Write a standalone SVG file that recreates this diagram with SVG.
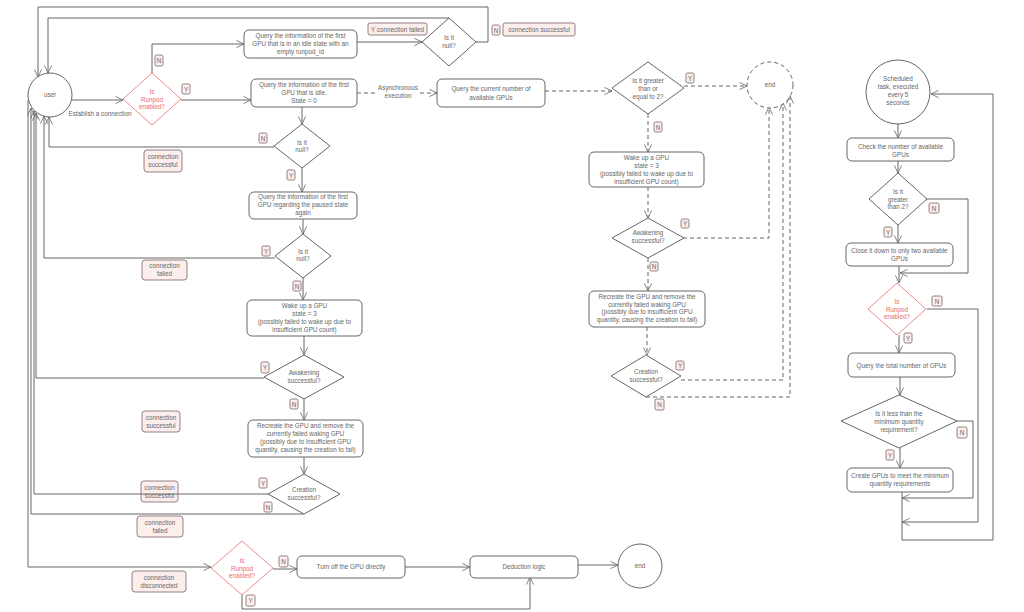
<svg xmlns="http://www.w3.org/2000/svg" width="1024" height="612" viewBox="0 0 1024 612">
<defs>
<style>
text{font-family:"Liberation Sans",Arial,sans-serif;font-size:6.3px;fill:#666;text-anchor:middle}
.n{fill:#fff;stroke:#666;stroke-width:1}
.r{fill:#fff;stroke:#f08a8a;stroke-width:1}
.rt{fill:#e86a6a}
.c{fill:none;stroke:#666;stroke-width:1}
.d{fill:none;stroke:#666;stroke-width:1;stroke-dasharray:4 3}
.lb{fill:#fdeeee;stroke:#7a6262;stroke-width:0.8}
</style>
<marker id="a" viewBox="0 0 10 10" refX="9.5" refY="5" markerWidth="10" markerHeight="8" orient="auto" markerUnits="userSpaceOnUse">
<path d="M0,0.5 L9.5,5 L0,9.5" fill="none" stroke="#666" stroke-width="1"/>
</marker>
</defs>
<rect width="1024" height="612" fill="#fff"/>

<g id="labels">
<rect class="lb" x="144" y="150" width="38" height="22" rx="3"/><text x="163" y="159">connection</text><text x="163" y="167">successful</text>
<rect class="lb" x="142" y="260" width="45" height="20" rx="3"/><text x="164.5" y="268">connection</text><text x="164.5" y="276">failed</text>
<rect class="lb" x="142" y="411" width="38" height="21" rx="3"/><text x="161" y="420">connection</text><text x="161" y="428">successful</text>
<rect class="lb" x="141" y="481" width="37" height="21" rx="3"/><text x="159.5" y="490">connection</text><text x="159.5" y="498">successful</text>
<rect class="lb" x="137" y="516" width="46" height="21" rx="3"/><text x="160" y="525">connection</text><text x="160" y="533">failed</text>
<rect class="lb" x="132" y="571" width="54" height="21" rx="3"/><text x="159" y="580">connection</text><text x="159" y="588">disconnected</text>
<rect class="lb" x="368" y="23" width="59" height="12" rx="2"/><text x="397.5" y="31.5">Y connection failed</text>
<rect class="lb" x="503" y="23" width="72" height="13" rx="2"/><text x="539" y="32">connection successful</text>
<text x="100" y="116">Establish a connection</text>
</g>

<g id="connectors">
<path class="c" d="M72,100 L123,100" marker-end="url(#a)"/>
<path class="c" d="M152,73 L152,44 L244,44" marker-end="url(#a)"/>
<path class="c" d="M181,100 L251,100" marker-end="url(#a)"/>
<path class="c" d="M357,42 L422,42" marker-end="url(#a)"/>
<path class="c" d="M449,18 L48,18 L48,73" marker-end="url(#a)"/>
<path class="c" d="M476,42 L488,42 L488,7 L38,7 L38,77" marker-end="url(#a)"/>
<path class="d" d="M357,93 L437,93" marker-end="url(#a)"/>
<path class="d" d="M545,91 L612,91" marker-end="url(#a)"/>
<path class="c" d="M302,107 L302,124" marker-end="url(#a)"/>
<path class="c" d="M274,147 L49,147 L49,117" marker-end="url(#a)"/>
<path class="c" d="M302,168 L302,192" marker-end="url(#a)"/>
<path class="c" d="M303,219 L303,234" marker-end="url(#a)"/>
<path class="c" d="M275,258 L44,258 L44,116" marker-end="url(#a)"/>
<path class="c" d="M303,278 L303,300" marker-end="url(#a)"/>
<path class="c" d="M304,336 L304,355" marker-end="url(#a)"/>
<path class="c" d="M264,378 L36,378 L36,113" marker-end="url(#a)"/>
<path class="c" d="M304,398 L304,420" marker-end="url(#a)"/>
<path class="c" d="M304,457 L304,474" marker-end="url(#a)"/>
<path class="c" d="M269,494 L34,494 L34,111" marker-end="url(#a)"/>
<path class="c" d="M304,514 L31,514 L31,108" marker-end="url(#a)"/>
<path class="c" d="M28,100 L28,567 L211,567" marker-end="url(#a)"/>
<path class="c" d="M273,569 L297,569" marker-end="url(#a)"/>
<path class="c" d="M405,567 L470,567" marker-end="url(#a)"/>
<path class="c" d="M578,565 L618,565" marker-end="url(#a)"/>
<path class="c" d="M242,595 L242,609 L530,609 L530,577" marker-end="url(#a)"/>
<path class="d" d="M684,86 L747,86" marker-end="url(#a)"/>
<path class="d" d="M648,114 L648,152" marker-end="url(#a)"/>
<path class="d" d="M648,187 L648,218" marker-end="url(#a)"/>
<path class="d" d="M683,238 L769,238 L769,107" marker-end="url(#a)"/>
<path class="d" d="M648,258 L648,291" marker-end="url(#a)"/>
<path class="d" d="M647,327 L647,355" marker-end="url(#a)"/>
<path class="d" d="M681,380 L783,380 L783,103" marker-end="url(#a)"/>
<path class="d" d="M646,397 L790,397 L790,96" marker-end="url(#a)"/>
<path class="c" d="M898,124 L898,138" marker-end="url(#a)"/>
<path class="c" d="M898,161 L898,173" marker-end="url(#a)"/>
<path class="c" d="M898,225 L898,243" marker-end="url(#a)"/>
<path class="c" d="M927,199 L968,199 L968,273 L900,273" marker-end="url(#a)"/>
<path class="c" d="M899,266 L899,283" marker-end="url(#a)"/>
<path class="c" d="M899,335 L899,353" marker-end="url(#a)"/>
<path class="c" d="M927,309 L978,309 L978,522 L902,522" marker-end="url(#a)"/>
<path class="c" d="M900,377 L900,395" marker-end="url(#a)"/>
<path class="c" d="M900,448 L900,468" marker-end="url(#a)"/>
<path class="c" d="M957,421 L973,421 L973,498 L902,498" marker-end="url(#a)"/>
<path class="c" d="M902,492 L902,540 L993,540 L993,94 L931,94" marker-end="url(#a)"/>
</g>

<g id="asyncLabel">
<rect x="378" y="84" width="42" height="16" fill="#fff"/>
<text x="398" y="90">Asynchronous</text><text x="398" y="98">execution</text>
</g>

<g id="yn">
<rect class="lb" x="155" y="55" width="8" height="11" rx="1.5"/><text x="159" y="62.5">N</text>
<rect class="lb" x="182" y="84" width="8" height="10" rx="1.5"/><text x="186" y="91.5">Y</text>
<rect class="lb" x="492" y="25" width="8" height="10" rx="1.5"/><text x="496" y="32.5">N</text>
<rect class="lb" x="259" y="133" width="8" height="10" rx="1.5"/><text x="263" y="140.5">N</text>
<rect class="lb" x="287" y="170" width="8" height="10" rx="1.5"/><text x="291" y="177.5">Y</text>
<rect class="lb" x="262" y="246" width="8" height="10" rx="1.5"/><text x="266" y="253.5">Y</text>
<rect class="lb" x="293" y="281" width="8" height="10" rx="1.5"/><text x="297" y="288.5">N</text>
<rect class="lb" x="261" y="362" width="8" height="11" rx="1.5"/><text x="265" y="369.5">Y</text>
<rect class="lb" x="290" y="399" width="8" height="10" rx="1.5"/><text x="294" y="406.5">N</text>
<rect class="lb" x="259" y="478" width="8" height="10" rx="1.5"/><text x="263" y="485.5">Y</text>
<rect class="lb" x="264" y="502" width="8" height="10" rx="1.5"/><text x="268" y="509.5">N</text>
<rect class="lb" x="686" y="73" width="8" height="10" rx="1.5"/><text x="690" y="80.5">Y</text>
<rect class="lb" x="654" y="122" width="8" height="10" rx="1.5"/><text x="658" y="129.5">N</text>
<rect class="lb" x="681" y="219" width="8" height="9" rx="1.5"/><text x="685" y="226">Y</text>
<rect class="lb" x="650" y="262" width="8" height="9" rx="1.5"/><text x="654" y="269">N</text>
<rect class="lb" x="676" y="361" width="8" height="9" rx="1.5"/><text x="680" y="368">Y</text>
<rect class="lb" x="655" y="399" width="9" height="11" rx="1.5"/><text x="659.5" y="406.5">N</text>
<rect class="lb" x="929" y="203" width="10" height="10" rx="1.5"/><text x="934" y="210.5">N</text>
<rect class="lb" x="884" y="227" width="8" height="10" rx="1.5"/><text x="888" y="234.5">Y</text>
<rect class="lb" x="932" y="296" width="10" height="10" rx="1.5"/><text x="937" y="303.5">N</text>
<rect class="lb" x="904" y="333" width="8" height="10" rx="1.5"/><text x="908" y="340.5">Y</text>
<rect class="lb" x="957" y="427" width="10" height="11" rx="1.5"/><text x="962" y="434.5">N</text>
<rect class="lb" x="886" y="450" width="8" height="10" rx="1.5"/><text x="890" y="457.5">Y</text>
<rect class="lb" x="279" y="556" width="9" height="11" rx="1.5"/><text x="283.5" y="563.5">N</text>
<rect class="lb" x="246" y="595" width="9" height="11" rx="1.5"/><text x="250.5" y="602.5">Y</text>
</g>

<g id="user"><circle class="n" cx="50" cy="95" r="22"/><text x="50" y="97">user</text></g>
<g id="runpod1"><path class="r" d="M152,73 L181,99 L152,125 L123,99 Z" stroke-linejoin="round"/><text class="rt" x="152" y="94">Is</text><text class="rt" x="152" y="101.5">Runpod</text><text class="rt" x="152" y="109">enabled?</text></g>
<g id="queryIdleEmpty"><rect class="n" x="244" y="30" width="113" height="28" rx="5"/><text x="300.5" y="38">Query the information of the first</text><text x="300.5" y="46">GPU that is in an idle state with an</text><text x="300.5" y="54">empty runpod_id</text></g>
<g id="null1"><path class="n" d="M449,18 L476,42 L449,66 L422,42 Z" stroke-linejoin="round"/><text x="449" y="40">Is it</text><text x="449" y="48">null?</text></g>
<g id="queryIdle"><rect class="n" x="251" y="79" width="106" height="28" rx="5"/><text x="304" y="87">Query the information of the first</text><text x="304" y="95">GPU that is idle.</text><text x="304" y="103">State = 0</text></g>
<g id="queryCount"><rect class="n" x="437" y="79" width="108" height="28" rx="5"/><text x="491" y="91">Query the current number of</text><text x="491" y="100">available GPUs</text></g>
<g id="null2"><path class="n" d="M302,124 L330,146 L302,168 L274,146 Z" stroke-linejoin="round"/><text x="302" y="145">Is it</text><text x="302" y="152">null?</text></g>
<g id="queryPaused"><rect class="n" x="249" y="192" width="108" height="27" rx="5"/><text x="303" y="199">Query the information of the first</text><text x="303" y="207">GPU regarding the paused state</text><text x="303" y="215">again</text></g>
<g id="null3"><path class="n" d="M303,234 L331,256 L303,278 L275,256 Z" stroke-linejoin="round"/><text x="303" y="254">Is it</text><text x="303" y="261">null?</text></g>
<g id="wake1"><rect class="n" x="247" y="300" width="115" height="36" rx="5"/><text x="304.5" y="308">Wake up a GPU</text><text x="304.5" y="316">state = 3</text><text x="304.5" y="324">(possibly failed to wake up due to</text><text x="304.5" y="332">insufficient GPU count)</text></g>
<g id="awake1"><path class="n" d="M304,355 L344,377 L304,399 L264,377 Z" stroke-linejoin="round"/><text x="304" y="375">Awakening</text><text x="304" y="383">successful?</text></g>
<g id="recreate1"><rect class="n" x="248" y="420" width="115" height="37" rx="5"/><text x="305.5" y="428">Recreate the GPU and remove the</text><text x="305.5" y="436">currently failed waking GPU</text><text x="305.5" y="444">(possibly due to insufficient GPU</text><text x="305.5" y="452">quantity, causing the creation to fail)</text></g>
<g id="create1"><path class="n" d="M304,474 L340,494 L304,514 L268,494 Z" stroke-linejoin="round"/><text x="304" y="492">Creation</text><text x="304" y="500">successful?</text></g>
<g id="runpod2"><path class="r" d="M242,541 L273,568 L242,595 L211,568 Z" stroke-linejoin="round"/><text class="rt" x="242" y="563">Is</text><text class="rt" x="242" y="570.5">Runpod</text><text class="rt" x="242" y="578">enabled?</text></g>
<g id="turnOff"><rect class="n" x="297" y="556" width="108" height="22" rx="5"/><text x="351" y="569">Turn off the GPU directly</text></g>
<g id="deduction"><rect class="n" x="470" y="556" width="108" height="22" rx="5"/><text x="524" y="569">Deduction logic</text></g>
<g id="end1"><circle class="n" cx="640" cy="566" r="22"/><text x="640" y="568">end</text></g>

<g id="ge2"><path class="n" d="M648,62 L684,88 L648,114 L612,88 Z" stroke-linejoin="round"/><text x="648" y="83">Is it greater</text><text x="648" y="91">than or</text><text x="648" y="99">equal to 2?</text></g>
<g id="end2"><circle cx="770" cy="85" r="23" fill="#fff" stroke="#666" stroke-dasharray="4 3"/><text x="770" y="87">end</text></g>
<g id="wake2"><rect class="n" x="589" y="152" width="115" height="35" rx="5"/><text x="646.5" y="160">Wake up a GPU</text><text x="646.5" y="168">state = 3</text><text x="646.5" y="176">(possibly failed to wake up due to</text><text x="646.5" y="184">insufficient GPU count)</text></g>
<g id="awake2"><path class="n" d="M648,218 L684,238 L648,258 L612,238 Z" stroke-linejoin="round"/><text x="648" y="235">Awakening</text><text x="648" y="243">successful?</text></g>
<g id="recreate2"><rect class="n" x="589" y="291" width="116" height="36" rx="5"/><text x="647" y="299">Recreate the GPU and remove the</text><text x="647" y="306.5">currently failed waking GPU</text><text x="647" y="314">(possibly due to insufficient GPU</text><text x="647" y="322">quantity, causing the creation to fail)</text></g>
<g id="create2"><path class="n" d="M646,355 L681,376 L646,397 L611,376 Z" stroke-linejoin="round"/><text x="646" y="374">Creation</text><text x="646" y="382">successful?</text></g>

<g id="scheduled"><circle class="n" cx="898" cy="92" r="32"/><text x="898" y="81">Scheduled</text><text x="898" y="89">task, executed</text><text x="898" y="97">every 5</text><text x="898" y="105">seconds</text></g>
<g id="checkCount"><rect class="n" x="847" y="138" width="107" height="23" rx="5"/><text x="900.5" y="149">Check the number of available</text><text x="900.5" y="157">GPUs</text></g>
<g id="gt2"><path class="n" d="M898,173 L927,199 L898,225 L869,199 Z" stroke-linejoin="round"/><text x="898" y="194">Is it</text><text x="898" y="201.5">greater</text><text x="898" y="209">than 2?</text></g>
<g id="closeDown"><rect class="n" x="846" y="243" width="107" height="23" rx="5"/><text x="899.5" y="253">Close it down to only two available</text><text x="899.5" y="261">GPUs</text></g>
<g id="runpod3"><path class="r" d="M897,283 L926,309 L897,335 L868,309 Z" stroke-linejoin="round"/><text class="rt" x="897" y="304">Is</text><text class="rt" x="897" y="311.5">Runpod</text><text class="rt" x="897" y="319">enabled?</text></g>
<g id="queryTotal"><rect class="n" x="848" y="353" width="107" height="24" rx="5"/><text x="901.5" y="368">Query the total number of GPUs</text></g>
<g id="lessMin"><path class="n" d="M899,395 L957,421 L899,448 L841,421 Z" stroke-linejoin="round"/><text x="899" y="416">Is it less than the</text><text x="899" y="424">minimum quantity</text><text x="899" y="432">requirement?</text></g>
<g id="createMin"><rect class="n" x="847" y="468" width="106" height="24" rx="5"/><text x="900" y="478">Create GPUs to meet the minimum</text><text x="900" y="486">quantity requirements</text></g>
</svg>
